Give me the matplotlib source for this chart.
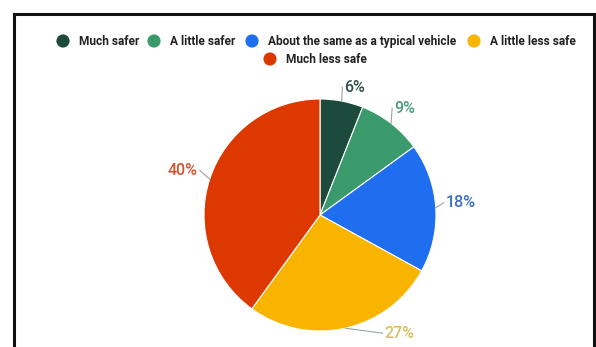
import numpy as np
import matplotlib
from matplotlib import pyplot as plt

matplotlib.use("Agg")

categories = ["Much safer", "A little safer", "About the same as a typical vehicle",
              "A little less safe", "Much less safe"]
values = [6, 9, 18, 27, 40]
pct_labels = ["6%", "9%", "18%", "27%", "40%"]

colors = ["#1c4a3c", "#3a9a6b", "#1f6ef0", "#f9b400", "#dc3800"]
label_colors = ["#2b5246", "#4c9c7a", "#3b6fcc", "#d9bd5e", "#d6522a"]

W, H = 596, 347
fig = plt.figure(figsize=(W / 100, H / 100), dpi=100)
ax = fig.add_axes([0, 0, 1, 1])

cx, cy, R = 320, H - 215, 116
wedges, _ = ax.pie(values, colors=colors, startangle=90, counterclock=False,
                   center=(cx, cy), radius=R,
                   wedgeprops=dict(edgecolor="white", linewidth=0.8))
ax.set_xlim(0, W)
ax.set_ylim(0, H)
ax.set_aspect("equal")
ax.axis("off")

# label placement tweaks (angle shift in degrees, radius factor)
tweaks = [(0, 1.12), (3, 1.12), (2, 1.09), (16, 1.16), (-2, 1.12)]

for w, lab, lc, (da, rf) in zip(wedges, pct_labels, label_colors, tweaks):
    mid = np.deg2rad((w.theta1 + w.theta2) / 2)
    ang = mid + np.deg2rad(da)
    x0, y0 = cx + R * np.cos(mid), cy + R * np.sin(mid)
    xt, yt = cx + R * rf * np.cos(ang), cy + R * rf * np.sin(ang)
    ha = "left" if np.cos(ang) > 0 else "right"
    gap = 2 if ha == "left" else -2
    ax.plot([x0, xt - gap], [y0, yt], color="#9aa5a0", lw=0.8)
    ax.text(xt, yt, lab, color=lc, fontsize=11.5, family="Roboto",
            fontweight="medium", ha=ha, va="center")

# legend, wrapped onto two rows
leg_x = [63, 154, 252, 474, 270]
leg_y = [41, 41, 41, 41, 59]
for name, c, lx, ly in zip(categories, colors, leg_x, leg_y):
    ax.scatter([lx], [H - ly], s=90, color=c, edgecolors="none")
    ax.text(lx + 16, H - ly, name, fontsize=8.6, family="Roboto",
            fontweight="bold", color="#222222", va="center", ha="left")

# outer frame, open at the bottom
ax.plot([14, 14, 594, 594], [-5, H - 14, H - 14, -5], color="#111111",
        lw=2.2, solid_joinstyle="miter")

plt.savefig("out.png", dpi=100)
plt.close(fig)
